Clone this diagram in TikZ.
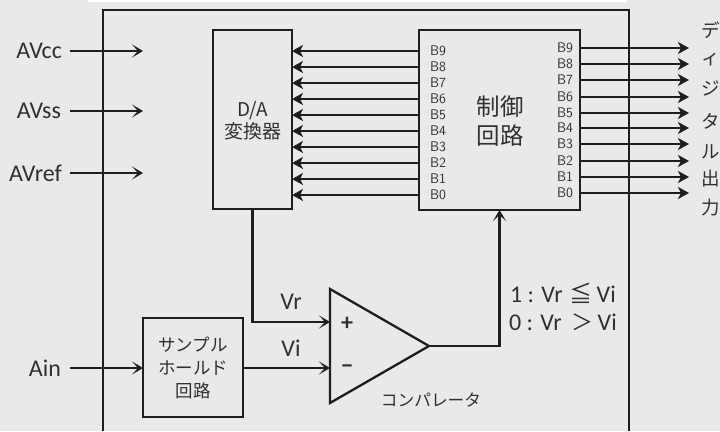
\documentclass[tikz,border=0pt]{standalone}
\usepackage{fontspec}
\setmainfont{Carlito}
\newfontfamily\jpf{Noto Sans CJK JP}
\usetikzlibrary{arrows.meta,calc}
\definecolor{paper}{HTML}{E9E9E9}
\definecolor{ink}{HTML}{1E1E1E}
\definecolor{txt}{HTML}{303030}
\tikzset{
  every node/.style={text=txt,inner sep=0pt,outer sep=0pt},
  wire/.style={draw=ink,line width=2.2pt},
  arr/.style={wire,-{Stealth[length=11pt,width=13pt,inset=6pt]}},
  barr/.style={wire,-{Stealth[length=11pt,width=12pt,inset=3pt]}},
  blockbox/.style={draw=ink,line width=2.4pt,fill=none,rectangle},
  biglab/.style={font=\fontsize{24}{25}\selectfont},
  small/.style={font=\fontsize{14}{15}\selectfont\sffamily,text=txt},
}
\begin{document}
\begin{tikzpicture}[x=1pt,y=-1pt]
\useasboundingbox (0,0) rectangle (720,431);
\fill[paper] (0,0) rectangle (720,431);
\fill[white] (88,0) rectangle (627,2);
% outer frame
\coordinate (fbl) at (103,431);
\coordinate (ftl) at (103,10);
\coordinate (ftr) at (629,10);
\coordinate (fbr) at (629,431);
\draw[draw=ink,line width=2.2pt] (fbl) -- (ftl) -- (ftr) -- (fbr);
% blocks
\node[blockbox,minimum width=79pt,minimum height=179pt] (da) at (252.5,119.5) {};
\node[font=\jpf\fontsize{19}{22}\selectfont,align=center] (dalab) at (252.5,120.5) {D/A\\変換器};
\node[blockbox,minimum width=161pt,minimum height=180pt] (ctl) at (499.5,120) {};
\node[font=\jpf\fontsize{23.5}{29.5}\selectfont,align=center] (ctllab) at (500,121) {制御\\回路};
\node[blockbox,minimum width=100pt,minimum height=99pt] (sh) at (193,367.5) {};
\node[font=\jpf\fontsize{17.5}{23}\selectfont,align=center] (shlab) at (193,368) {サンプル\\ホールド\\回路};
\coordinate (cpa) at (330,289);
\coordinate (cpb) at (330,403);
\coordinate (cpo) at (429,346);
\draw[draw=ink,line width=2.3pt,line join=miter] (cpa) -- (cpo) -- (cpb) -- cycle;
\node[font=\fontsize{24}{24}\selectfont\bfseries] (plus) at (347,324) {+};
\node[font=\fontsize{24}{24}\selectfont\bfseries] (minus) at (347,369) {−};
\node[font=\jpf\fontsize{16.7}{18}\selectfont] (cplab) at (431,400) {コンパレータ};
% bits
\foreach \i/\yl/\yr in {9/51/48,8/67/64,7/83/80,6/99/97,5/115/113,4/131/128,3/147/144,2/163/161,1/179/177,0/195/193}{
  \node[small] (cl\i) at (438,\yl) {B\i};
  \node[small] (cr\i) at (565,\yr) {B\i};
  \coordinate (ce\i) at (689,\yr);
  \coordinate (cs\i) at (ctl.east |- ce\i);
  \draw[barr] (ctl.west |- cl\i) -- (da.east |- cl\i);
  \draw[barr] (cs\i) -- (ce\i);
}
% inputs
\node[biglab,anchor=east] (avcc) at (62,51) {AVcc};
\node[biglab,anchor=east] (avss) at (61,111) {AVss};
\node[biglab,anchor=east] (avref) at (62,173) {AVref};
\node[biglab,anchor=east] (ain) at (61,368) {Ain};
\coordinate (avcce) at (143,51);
\coordinate (avsse) at (143,111);
\coordinate (avrefe) at (143,173);
\draw[arr,shorten <=8pt] (avcc.east) -- (avcce);
\draw[arr,shorten <=9pt] (avss.east) -- (avsse);
\draw[arr,shorten <=8pt] (avref.east) -- (avrefe);
\draw[arr,shorten <=9pt] (ain.east) -- (sh.west |- ain);
% comparator wiring
\coordinate (cpp) at (330,322);
\coordinate (cpm) at (330,368);
\draw[arr] (da.south) -- (da.south |- cpp) -- (cpp);
\draw[arr] (sh.east |- cpm) -- (cpm);
\draw[arr] (cpo) -| (ctl.south);
\node[biglab] (vr) at (291,302) {Vr};
\node[biglab] (vi) at (291,348) {Vi};
\node[font=\fontsize{24}{25}\selectfont,anchor=west] (l1) at (510,293) {1 : Vr\hspace{7pt}{\jpf\fontsize{23}{23}\selectfont ≦}\hspace{4pt}Vi};
\node[font=\fontsize{24}{25}\selectfont,anchor=west] (l0) at (509,322) {0 : Vr\hspace{10pt}{\jpf\fontsize{22}{22}\selectfont ＞}\hspace{4pt}Vi};
% vertical output caption
\foreach \n/\c/\y in {a/デ/30,b/ィ/60,c/ジ/88,d/タ/121,e/ル/152,f/出/179,g/力/208}{
  \node[font=\jpf\fontsize{18.5}{19}\selectfont,anchor=west] (cap\n) at (701,\y) {\c};
}
\end{tikzpicture}
\end{document}
